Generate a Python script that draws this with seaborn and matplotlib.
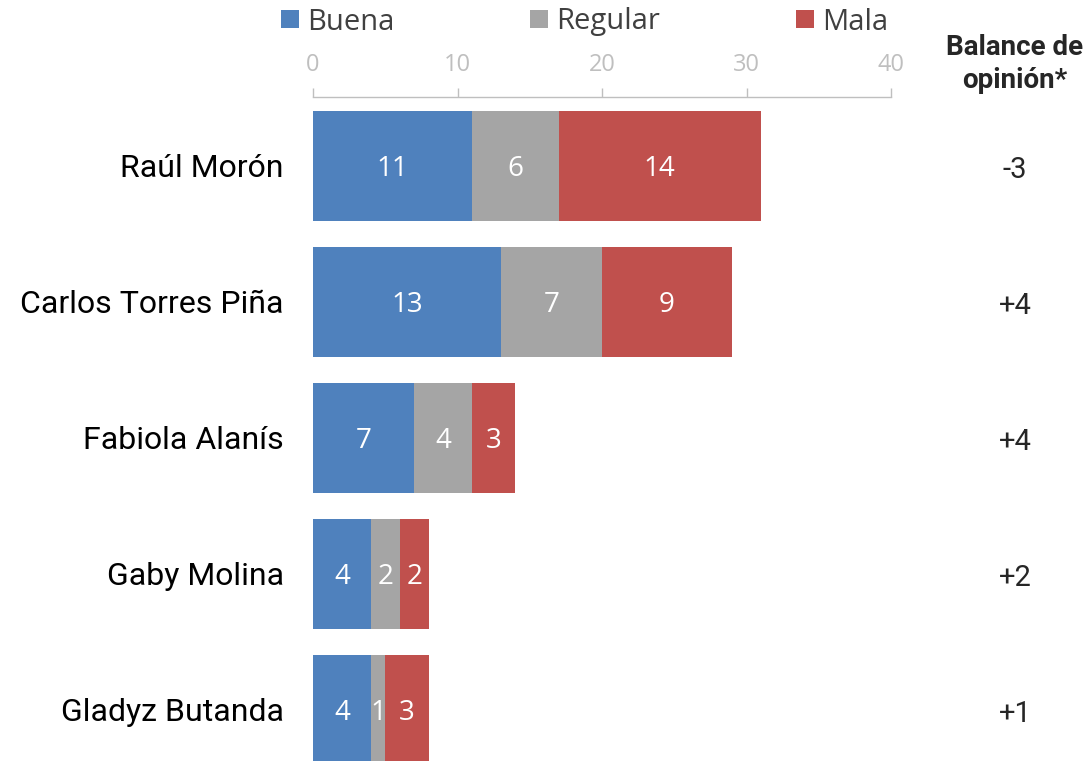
import numpy as np
import pandas as pd
import matplotlib
matplotlib.use("Agg")
import matplotlib.pyplot as plt
import seaborn as sns
from matplotlib.patches import Patch

candidates = ["Raúl Morón", "Carlos Torres Piña", "Fabiola Alanís", "Gaby Molina", "Gladyz Butanda"]
buena = [11, 13, 7, 4, 4]
regular = [6, 7, 4, 2, 1]
mala = [14, 9, 3, 2, 3]
balance = ["-3", "+4", "+4", "+2", "+1"]
series = ["Buena", "Regular", "Mala"]
colors = ["#4F81BD", "#A5A5A5", "#C0504D"]
x_ticks = [0, 10, 20, 30, 40]

sns.set_theme(style="white")
plt.rcParams['font.family'] = ['Open Sans', 'DejaVu Sans']

df = pd.DataFrame({"candidato": candidates, "Buena": buena, "Regular": regular, "Mala": mala})
df["c1"] = df["Buena"]
df["c2"] = df["Buena"] + df["Regular"]
df["c3"] = df["c2"] + df["Mala"]

fig = plt.figure(figsize=(10.92, 7.61), dpi=100)
ax = fig.add_axes([313 / 1092, 0, 578 / 1092, 1 - 97 / 761])

# stacked bars: draw cumulative totals from the back
for col, c in zip(["c3", "c2", "c1"], colors[::-1]):
    sns.barplot(data=df, x=col, y="candidato", orient="h", color=c, width=0.81,
                saturation=1, ax=ax, linewidth=0)

# value labels
for i, row in df.iterrows():
    starts = [0, row["c1"], row["c2"]]
    for s, v in zip(starts, [row["Buena"], row["Regular"], row["Mala"]]):
        ax.text(s + v / 2, i, str(v), ha="center", va="center_baseline", color="white", fontsize=20)

ax.set_xlim(0, 40)
ax.set_ylim(4.375, -0.507)
ax.set_xticks(x_ticks)
ax.xaxis.tick_top()
ax.tick_params(axis="x", colors="#BFBFBF", length=6.5, width=1, direction="out",
               labelsize=17, pad=8, labelcolor="#BFBFBF")
ax.tick_params(axis="y", length=0, pad=21, labelsize=23)
for lab in ax.get_yticklabels():
    lab.set_family(["Roboto", "DejaVu Sans"])
    lab.set_color("black")
ax.set_xlabel("")
ax.set_ylabel("")
for side in ["bottom", "left", "right"]:
    ax.spines[side].set_visible(False)
ax.spines["top"].set_color("#BFBFBF")
ax.spines["top"].set_linewidth(1)

# balance column
fig.text(1015 / 1092, 1 - 64 / 761, "Balance de\nopinión*", ha="center", va="center",
         fontsize=20, fontweight="bold", family=["Roboto", "DejaVu Sans"], linespacing=1.25)
for i, b in enumerate(balance):
    ax.annotate(b, xy=(1015 / 1092, i + 0.03), xycoords=("figure fraction", "data"),
                ha="center", va="center", fontsize=21, family=["Roboto", "DejaVu Sans"])

handles = [Patch(facecolor=c, edgecolor="none") for c in colors]
fig.legend(handles, series, loc="center left", bbox_to_anchor=(281 / 1092, 1 - 22 / 761),
           ncol=3, frameon=False, fontsize=21, handlelength=0.6, handleheight=0.6,
           handletextpad=0.3, columnspacing=4.65, labelcolor="#404040", borderaxespad=0,
           borderpad=0)

fig.savefig("out.png", dpi=100)
